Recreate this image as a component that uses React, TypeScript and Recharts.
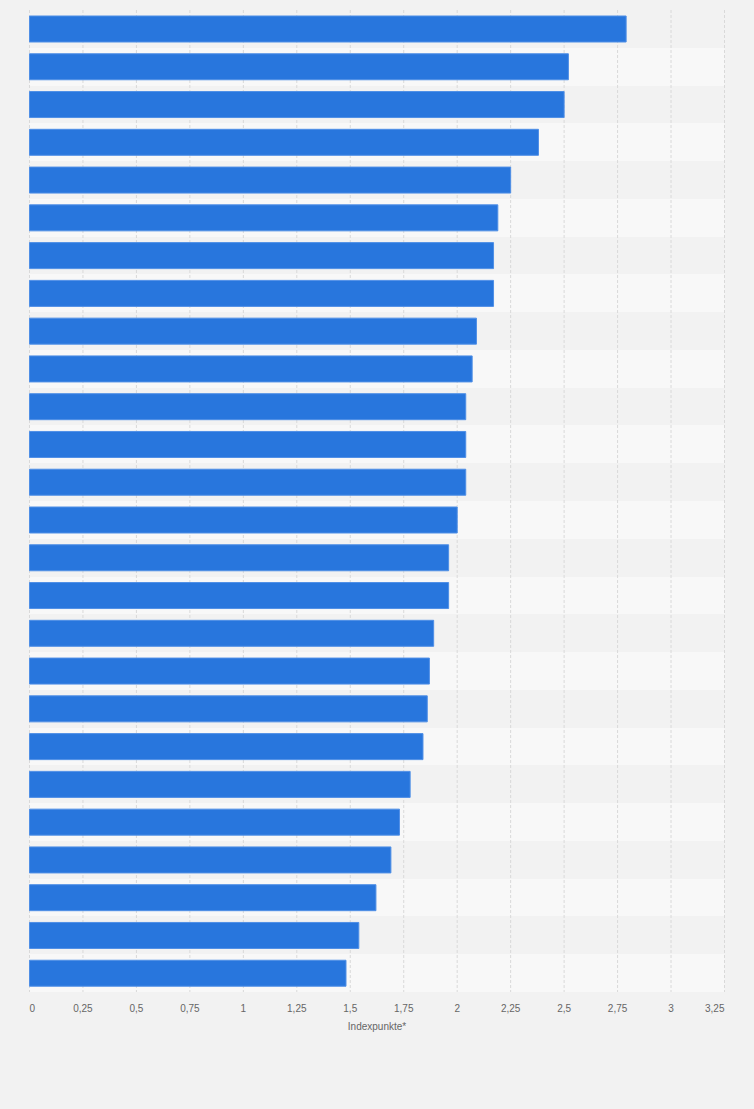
import React from 'react';
import { BarChart, Bar, XAxis, YAxis, CartesianGrid } from 'recharts';

const categories = [
  'Rang 1', 'Rang 2', 'Rang 3', 'Rang 4', 'Rang 5', 'Rang 6', 'Rang 7', 'Rang 8', 'Rang 9',
  'Rang 10', 'Rang 11', 'Rang 12', 'Rang 13', 'Rang 14', 'Rang 15', 'Rang 16', 'Rang 17',
  'Rang 18', 'Rang 19', 'Rang 20', 'Rang 21', 'Rang 22', 'Rang 23', 'Rang 24', 'Rang 25', 'Rang 26',
];

const values = [
  2.79, 2.52, 2.5, 2.38, 2.25, 2.19, 2.17, 2.17, 2.09, 2.07, 2.04, 2.04, 2.04,
  2.0, 1.96, 1.96, 1.89, 1.87, 1.86, 1.84, 1.78, 1.73, 1.69, 1.62, 1.54, 1.48,
];

const xTicks = [0, 0.25, 0.5, 0.75, 1, 1.25, 1.5, 1.75, 2, 2.25, 2.5, 2.75, 3, 3.25];
const xTickLabels = ['0', '0,25', '0,5', '0,75', '1', '1,25', '1,5', '1,75', '2', '2,25', '2,5', '2,75', '3', '3,25'];

const axisTitle = 'Indexpunkte*';

const data = categories.map((name, i) => ({ name, value: values[i] }));

const FONT = '"Liberation Sans", Arial, sans-serif';

const XTick = (props: any) => {
  const { x, y, payload, index } = props;
  const i = xTicks.indexOf(payload.value);
  const label = i >= 0 ? xTickLabels[i] : String(payload.value);
  const last = xTicks.length - 1;
  const anchor = index === 0 ? 'start' : index === last ? 'end' : 'middle';
  return (
    <text x={x} y={y} dy={12} textAnchor={anchor} fill="#666666" fontSize={10} fontFamily={FONT}>
      {label}
    </text>
  );
};

const bandGenerator = (arg: any) => {
  const o = arg && arg.offset;
  const top = o ? o.top : 10;
  const h = o ? o.height : 982;
  return categories.map((_, i) => top + (i * h) / categories.length);
};

export default function App() {
  return (
    <div
      style={{
        position: 'absolute',
        left: 0,
        top: 0,
        width: 754,
        height: 1109,
        background: '#f2f2f2',
        fontFamily: FONT,
      }}
    >
      <BarChart
        width={754}
        height={1109}
        data={data}
        layout="vertical"
        margin={{ top: 10, right: 29.5, bottom: 77, left: 29.5 }}
        barSize={26}
      >
        <CartesianGrid
          vertical={false}
          stroke="none"
          horizontalCoordinatesGenerator={bandGenerator}
          horizontalFill={['#f2f2f2', '#f8f8f8']}
          fillOpacity={1}
        />
        <CartesianGrid horizontal={false} stroke="#d9d9d9" strokeDasharray="3 2" />
        <XAxis
          type="number"
          domain={[0, 3.25]}
          ticks={xTicks}
          interval={0}
          axisLine={false}
          tickLine={false}
          height={40}
          tick={<XTick />}
          label={{
            value: axisTitle,
            position: 'insideBottom',
            offset: 2,
            fill: '#666666',
            fontSize: 10,
            fontFamily: FONT,
          }}
        />
        <YAxis
          type="category"
          dataKey="name"
          width={0}
          tick={false}
          tickLine={false}
          axisLine={{ stroke: '#333333', strokeWidth: 1 }}
        />
        <Bar
          dataKey="value"
          fill="#2876dd"
          stroke="#4f8fe6"
          strokeWidth={1}
          isAnimationActive={false}
        />
      </BarChart>
    </div>
  );
}
